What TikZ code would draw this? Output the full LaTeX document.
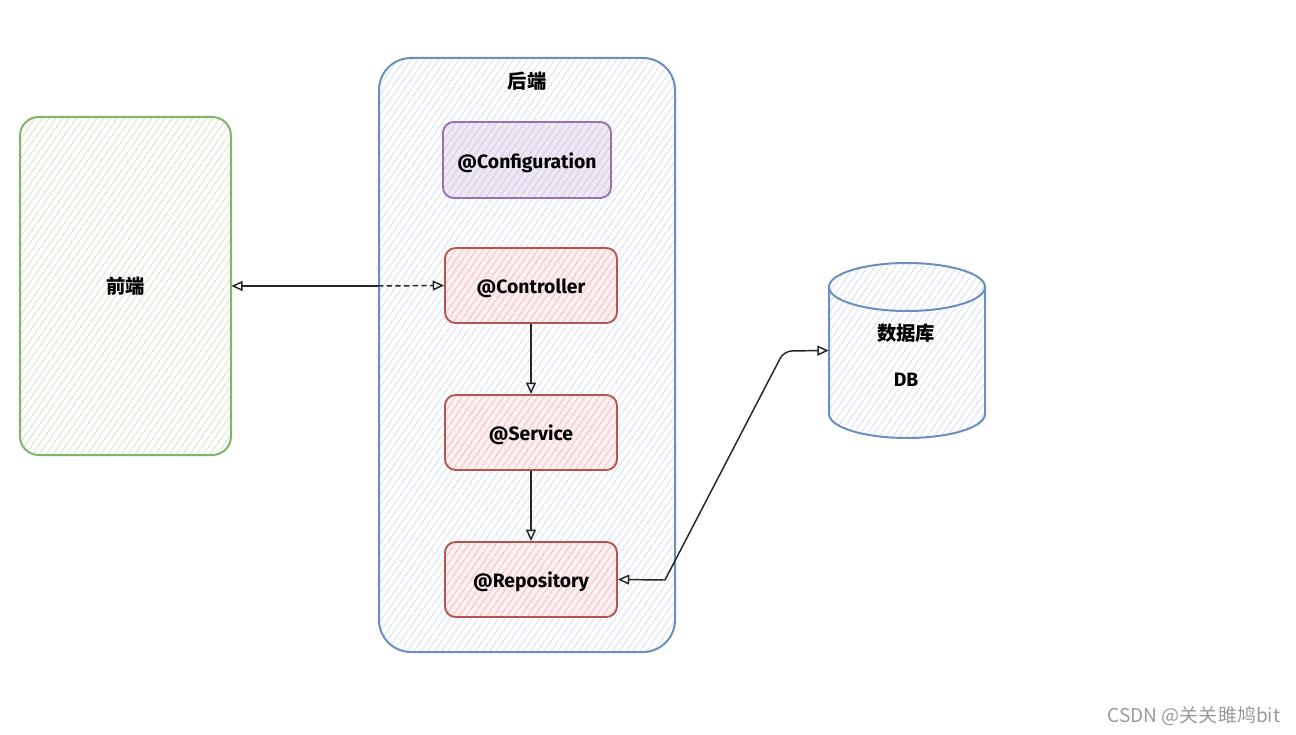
\documentclass[tikz,border=0pt]{standalone}
\usepackage{fontspec}
\setmainfont{Fira Sans}
\newfontfamily\cjk{Noto Sans CJK SC}
\usetikzlibrary{arrows.meta,patterns.meta}
\definecolor{grn}{HTML}{82B366}
\definecolor{blu}{HTML}{6C8EBF}
\definecolor{rd}{HTML}{B85450}
\definecolor{pur}{HTML}{9673A6}
\definecolor{grnh}{HTML}{CCE2C4}
\definecolor{bluh}{HTML}{CFDDEE}
\definecolor{rdf}{HTML}{FCEFEF}
\definecolor{rdh}{HTML}{EFBDBD}
\definecolor{purf}{HTML}{EEE8F5}
\definecolor{purh}{HTML}{D5C6E3}
\definecolor{wm}{HTML}{9A9A9A}
\tikzset{
  hatch/.style={pattern={Lines[angle=55,distance=4.2pt,line width=0.55pt]}},
  lbl/.style={font=\fontsize{14.5}{17}\selectfont\bfseries,text height=12.5pt,text depth=0pt},
  cjklbl/.style={font=\cjk\fontsize{14.5}{17}\selectfont\bfseries},
  front/.style={draw=grn,line width=1.5pt,rounded corners=14pt,hatch,pattern color=grnh,
    minimum width=158.25pt,minimum height=253.5pt,cjklbl},
  back/.style={draw=blu,line width=1.5pt,rounded corners=24pt,hatch,pattern color=bluh,
    minimum width=222pt,minimum height=445.5pt},
  cfgbox/.style={draw=pur,line width=1.4pt,rounded corners=8pt,preaction={fill=purf},hatch,pattern color=purh,
    minimum width=126pt,minimum height=57pt,lbl},
  redbox/.style={draw=rd,line width=1.4pt,rounded corners=8pt,preaction={fill=rdf},hatch,pattern color=rdh,
    minimum width=129pt,minimum height=56.25pt,lbl},
  conn/.style={line width=1.1pt,black!85},
}
\def\tp{Triangle[open,length=8.5pt,width=7.5pt,line width=1.1pt]}
\begin{document}
\begin{tikzpicture}[x=0.75pt,y=-0.75pt]
\useasboundingbox (0,0) rectangle (1296,735);
% containers
\node[front] (fe) at (125.5,286) {前端};
\node[back] (be) at (527,355) {};
\node[cjklbl] (betitle) at (527,81) {后端};
\node[cfgbox] (cfg) at (527,160) {@Configuration};
\node[redbox] (ctl) at (531,285.5) {@Controller};
\node[redbox] (svc) at (531,432.5) {@Service};
\node[redbox] (repo) at (531,579.5) {@Repository};
% database
\node[minimum width=117pt,minimum height=131.25pt,inner sep=0pt] (db) at (907,350.5) {};
\fill[white] (829,287) -- (829,414) arc[start angle=180,end angle=0,x radius=78,y radius=24]
   -- (985,287) arc[start angle=0,end angle=-180,x radius=78,y radius=24] -- cycle;
\path[hatch,pattern color=bluh] (829,287) -- (829,414) arc[start angle=180,end angle=0,x radius=78,y radius=24]
   -- (985,287) arc[start angle=0,end angle=-180,x radius=78,y radius=24] -- cycle;
\draw[blu,line width=1.5pt] (829,287) -- (829,414) arc[start angle=180,end angle=0,x radius=78,y radius=24]
   -- (985,287);
\draw[blu,line width=1.5pt] (907,287) ellipse[x radius=78,y radius=24];
\node[cjklbl] (dbt1) at (906,333) {数据库};
\node[lbl] (dbt2) at (906,378) {DB};
% connectors
\coordinate (edge) at (fe.east -| be.west);
\draw[conn,{\tp}-] (fe.east) -- (edge);
\draw[conn,dash pattern=on 4pt off 2.5pt,-{\tp}] (edge) -- (ctl.west);
\draw[conn,-{\tp}] (ctl.south) -- (svc.north);
\draw[conn,-{\tp}] (svc.south) -- (repo.north);
\coordinate (b1) at (665,580);
\coordinate (b2) at (784,351);
\draw[conn,{\tp}-{\tp}]
  (repo.east) -- (b1) [rounded corners=6pt] -- (b2) -- (db.west);
% watermark
\node[font=\cjk\fontsize{14.3}{16}\selectfont,text=wm] (wmk) at (1194,716) {CSDN @关关雎鸠bit};
\end{tikzpicture}
\end{document}
